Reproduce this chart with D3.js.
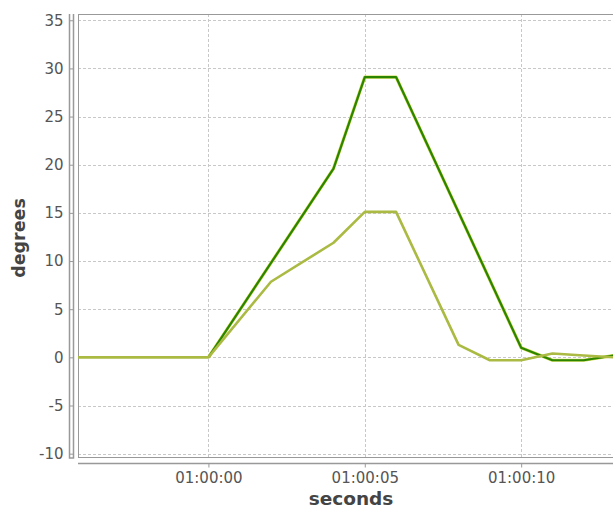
<!DOCTYPE html>
<html>
<head>
<meta charset="utf-8">
<script src="https://cdn.jsdelivr.net/npm/d3@7"></script>
<style>
  body { margin: 0; background: #fff; }
  svg { font-family: "DejaVu Sans", sans-serif; }
</style>
</head>
<body>
<script>
// seconds relative to 01:00:00
var seconds = [-5, -4, -3, -2, -1, 0, 2, 4, 5, 6, 8, 9, 10, 11, 12, 13];
var lightValues = [0, 0, 0, 0, 0, 0, 7.85, 11.9, 15.1, 15.1, 1.3, -0.3, -0.3, 0.4, 0.2, 0.0];

var darkSeconds = [0, 4, 5, 6, 10, 11, 12, 13];
var darkValues = [0, 19.6, 29.1, 29.1, 1.0, -0.3, -0.3, 0.2];

var yTicks = [-10, -5, 0, 5, 10, 15, 20, 25, 30, 35];
var xTicks = [0, 5, 10];
var xTickLabels = ["01:00:00", "01:00:05", "01:00:10"];

var width = 613, height = 510;

var svg = d3.select('body').append('svg')
  .attr('width', width)
  .attr('height', height);

var x = d3.scaleLinear().domain([-4.17, 13.8]).range([78, 640]);
var y = d3.scaleLinear().domain([-10.45, 35.65]).range([458, 14]);

// clip for plot area
svg.append("defs").append("clipPath").attr("id", "plot-clip")
  .append("rect").attr("x", 78).attr("y", 14).attr("width", 562).attr("height", 444);

// grid
var grid = svg.append("g");
grid.selectAll("line.hgrid").data(yTicks).enter().append("line")
  .attr("x1", 78).attr("x2", 640)
  .attr("y1", function(d) { return Math.round(y(d)) + 0.5; })
  .attr("y2", function(d) { return Math.round(y(d)) + 0.5; })
  .attr("stroke", "#c8c8c8").attr("stroke-dasharray", "3,2");
grid.selectAll("line.vgrid").data(xTicks).enter().append("line")
  .attr("y1", 14).attr("y2", 458)
  .attr("x1", function(d) { return Math.round(x(d)) + 0.5; })
  .attr("x2", function(d) { return Math.round(x(d)) + 0.5; })
  .attr("stroke", "#c8c8c8").attr("stroke-dasharray", "3,2");

// plot frame
svg.append("rect")
  .attr("x", 78.5).attr("y", 14.5).attr("width", 600).attr("height", 443)
  .attr("fill", "none").attr("stroke", "#999").attr("stroke-width", 1);

var line = d3.line()
  .x(function(d) { return x(d[0]); })
  .y(function(d) { return y(d[1]); });

var plot = svg.append("g").attr("clip-path", "url(#plot-clip)");

plot.append("path")
  .datum(darkSeconds.map(function(s, i) { return [s, darkValues[i]]; }))
  .attr("d", line)
  .attr("fill", "none")
  .attr("stroke", "#cfd94a")
  .attr("stroke-width", 3.2)
  .attr("stroke-linejoin", "round");
plot.append("path")
  .datum(darkSeconds.map(function(s, i) { return [s, darkValues[i]]; }))
  .attr("d", line)
  .attr("fill", "none")
  .attr("stroke", "#2b8500")
  .attr("stroke-width", 2.2)
  .attr("stroke-linejoin", "round");

plot.append("path")
  .datum(seconds.map(function(s, i) { return [s, lightValues[i]]; }))
  .attr("d", line)
  .attr("fill", "none")
  .attr("stroke", "#abba42")
  .attr("stroke-width", 2.6)
  .attr("stroke-linejoin", "round");

// axes
var yAxis = svg.append("g")
  .attr("transform", "translate(73.5,0)")
  .call(d3.axisLeft(y).tickValues(yTicks).tickSize(4).tickPadding(6)
    .tickFormat(function(d) { return String(d); }));
var xAxis = svg.append("g")
  .attr("transform", "translate(0,463.5)")
  .call(d3.axisBottom(x).tickValues(xTicks).tickSize(4).tickPadding(5)
    .tickFormat(function(d, i) { return xTickLabels[i]; }));

[yAxis, xAxis].forEach(function(a) {
  a.select(".domain").attr("stroke", "#999").attr("stroke-width", 1.5);
  a.selectAll(".tick line").attr("stroke", "#999");
  a.selectAll(".tick text").attr("fill", "#555").style("font-size", "15px")
    .style("font-family", "DejaVu Sans, sans-serif");
});
yAxis.select(".domain").attr("d", "M-4,14V458H0V14");
xAxis.select(".domain").attr("d", "M78,0H640");

// axis titles
svg.append("text")
  .attr("x", 351).attr("y", 505)
  .attr("text-anchor", "middle")
  .attr("fill", "#444")
  .style("font-weight", "bold").style("font-size", "18.5px")
  .text("seconds");
svg.append("text")
  .attr("transform", "translate(25,238) rotate(-90)")
  .attr("text-anchor", "middle")
  .attr("fill", "#444")
  .style("font-weight", "bold").style("font-size", "17.5px")
  .text("degrees");
</script>
</body>
</html>
